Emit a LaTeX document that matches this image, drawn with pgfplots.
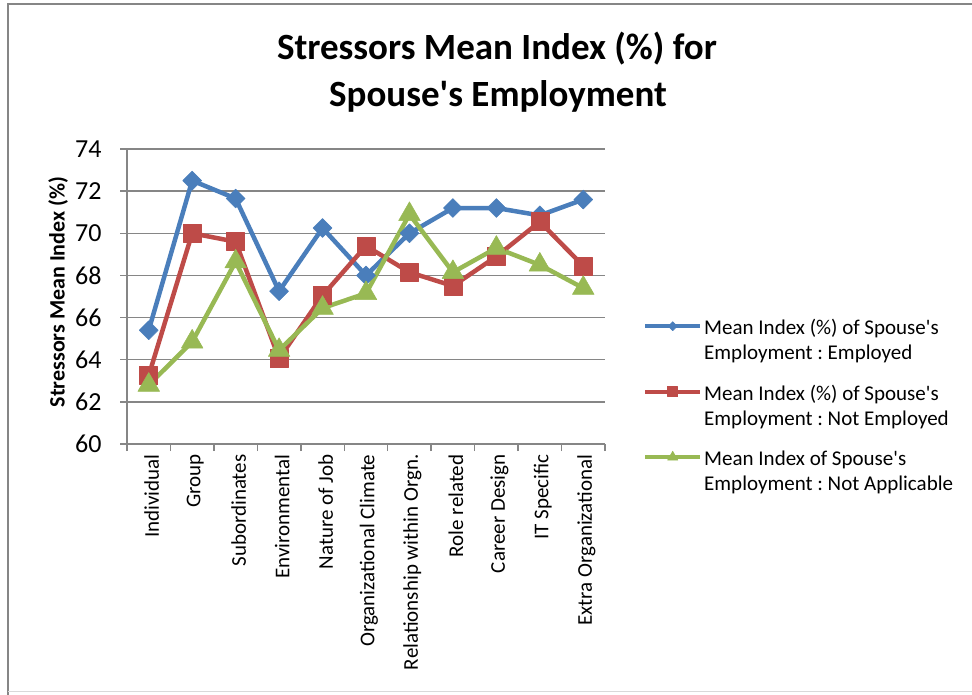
\documentclass[border=0pt]{standalone}
\usepackage{fontspec}
\setmainfont{Carlito}[Ligatures=TeXOff]
\usepackage{pgfplots}
\pgfplotsset{compat=1.18}
\definecolor{cblue}{HTML}{4A7EBB}
\definecolor{cred}{HTML}{BE4B48}
\definecolor{cgreen}{HTML}{98B954}
\definecolor{cgrid}{HTML}{868686}
\frenchspacing
\begin{document}
\begin{tikzpicture}[x=1pt,y=1pt]
\useasboundingbox (0,0) rectangle (972,694);
\draw[cgrid, line width=1.5pt] (8,-5) -- (8,690) -- (985,690);
\draw[gray!30, line width=1pt] (8,2.5) -- (985,2.5);
\node[font=\fontsize{37}{44}\selectfont\bfseries, anchor=base] at (497,634) {Stressors Mean Index (\%) for};
\node[font=\fontsize{37}{44}\selectfont\bfseries, anchor=base] at (498,587) {Spouse's Employment};
\node[rotate=90, font=\fontsize{22}{26}\selectfont\bfseries, anchor=base] at (64.5,402) {Stressors Mean Index (\%)};
\begin{axis}[
  at={(127pt,250pt)}, anchor=south west, scale only axis,
  width=478pt, height=295pt,
  xmin=-0.5, xmax=10.5, ymin=60, ymax=74,
  xtick={-0.5,0.5,...,10.5}, x tick label as interval,
  xticklabels={Individual,Group,Subordinates,Environmental,Nature of Job,Organizational Climate,Relationship within Orgn.,Role related,Career Design,IT Specific,Extra Organizational},
  ytick={60,62,...,74},
  axis x line*=bottom, axis y line*=left,
  axis line style={cgrid, line width=1.5pt, -},
  ymajorgrids, grid style={cgrid, line width=1.5pt},
  tick align=outside, major tick length=7pt,
  tick style={cgrid, line width=1.5pt},
  xticklabel style={rotate=90, anchor=east, yshift=-3pt, font=\fontsize{21}{25}\selectfont},
  yticklabel style={xshift=-15pt, font=\fontsize{26}{31}\selectfont},
  /pgf/number format/assume math mode=true,
  legend style={at={(1.0795,0.4373)}, anchor=north west, draw=none, fill=none,
    inner sep=0pt, row sep=11.5pt, column sep=0pt,
    nodes={text depth=},
    font=\fontsize{21}{25}\selectfont},
  legend cell align=left,
  legend image code/.code={\draw[mark repeat=2,mark phase=2,#1] plot coordinates {(0pt,16pt) (27.5pt,16pt) (55pt,16pt)};},
  every axis plot/.append style={line width=4.5pt, line join=round},
]
\addplot[cblue, mark=square*, mark size=6.7pt, mark options={rotate=45, solid, fill=cblue, line width=0.5pt}, legend image post style={mark size=3.2pt, line width=4pt}]
 coordinates {(0,65.4) (1,72.5) (2,71.65) (3,67.25) (4,70.25) (5,68.0) (6,70.0) (7,71.2) (8,71.2) (9,70.85) (10,71.6)};
\addlegendentry{\begin{tabular}[t]{@{}l@{}}Mean Index (\%) of Spouse's\\Employment : Employed\end{tabular}}
\addplot[cred, mark=square*, mark size=9pt, mark options={solid, fill=cred, line width=0.5pt}, legend image post style={mark size=5pt, line width=4pt}]
 coordinates {(0,63.25) (1,70.0) (2,69.6) (3,64.05) (4,67.05) (5,69.4) (6,68.15) (7,67.5) (8,68.9) (9,70.55) (10,68.45)};
\addlegendentry{\begin{tabular}[t]{@{}l@{}}Mean Index (\%) of Spouse's\\Employment : Not Employed\end{tabular}}
\addplot[cgreen, mark=triangle*, mark size=12.5pt, mark options={solid, fill=cgreen, line width=0.5pt}, legend image post style={mark size=6pt, line width=4pt}]
 coordinates {(0,62.8) (1,64.85) (2,68.65) (3,64.45) (4,66.45) (5,67.15) (6,70.9) (7,68.15) (8,69.3) (9,68.5) (10,67.4)};
\addlegendentry{\begin{tabular}[t]{@{}l@{}}Mean Index of Spouse's\\Employment : Not Applicable\end{tabular}}
\end{axis}
\end{tikzpicture}
\end{document}
